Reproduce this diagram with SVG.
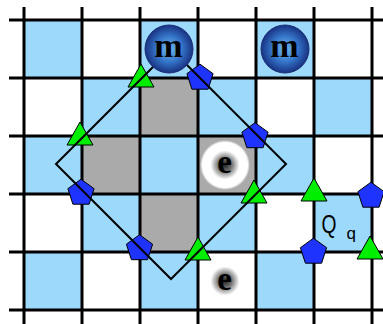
<svg xmlns="http://www.w3.org/2000/svg" width="383" height="324" viewBox="0 0 383 324">
<style>
.b{fill:#9dd9fb}
.g{fill:#aaaaaa}
.gl{stroke:#000;stroke-width:3;fill:none}
.tri{fill:#00ee00;stroke:#000;stroke-width:1}
.pen{fill:#1f33ff;stroke:#000;stroke-width:1}
.dia{fill:none;stroke:#000;stroke-width:2;stroke-linejoin:miter}
.mt{font-family:"Liberation Serif",serif;font-weight:bold;font-size:34px;text-anchor:middle;fill:#000}
.et{font-family:"Liberation Serif",serif;font-weight:bold;font-size:33px;text-anchor:middle;fill:#000}
.qt{font-family:"Liberation Sans",sans-serif;fill:#000}
</style>
<defs>
<radialGradient id="mg" cx="50%" cy="50%" r="50%">
<stop offset="0%" stop-color="#72bcee"/>
<stop offset="55%" stop-color="#3474c8"/>
<stop offset="100%" stop-color="#193282"/>
</radialGradient>
<radialGradient id="eg" cx="50%" cy="50%" r="50%">
<stop offset="0%" stop-color="#222"/>
<stop offset="28%" stop-color="#777"/>
<stop offset="58%" stop-color="#fff"/>
<stop offset="90%" stop-color="#fff"/>
<stop offset="100%" stop-color="#fff" stop-opacity="0"/>
</radialGradient>
<polygon id="tr" class="tri" points="0,-15 13,8 -13,8"/>
<polygon id="pe" class="pen" points="0,-13.8 13.1,-4.3 8.1,11.2 -8.1,11.2 -13.1,-4.3"/>
</defs>
<rect width="383" height="324" fill="#fff"/>
<g id="cells">
<rect class="b" x="24" y="20" width="58" height="58"/>
<rect class="b" x="140" y="20" width="58" height="58"/>
<rect class="b" x="256" y="20" width="58" height="58"/>
<rect class="b" x="82" y="78" width="58" height="58"/>
<rect class="g" x="140" y="78" width="58" height="58"/>
<rect class="b" x="198" y="78" width="58" height="58"/>
<rect class="b" x="314" y="78" width="58" height="58"/>
<rect class="b" x="24" y="136" width="58" height="58"/>
<rect class="g" x="82" y="136" width="58" height="58"/>
<rect class="b" x="140" y="136" width="58" height="58"/>
<rect class="g" x="198" y="136" width="58" height="58"/>
<rect class="b" x="256" y="136" width="58" height="58"/>
<rect class="b" x="82" y="194" width="58" height="58"/>
<rect class="g" x="140" y="194" width="58" height="58"/>
<rect class="b" x="198" y="194" width="58" height="58"/>
<rect class="b" x="314" y="194" width="58" height="58"/>
<rect class="b" x="24" y="252" width="58" height="58"/>
<rect class="b" x="140" y="252" width="58" height="58"/>
<rect class="b" x="256" y="252" width="58" height="58"/>
</g>
<g id="grid" class="gl">
<path d="M24 7V324M82 7V324M140 7V324M198 7V324M256 7V324M314 7V324M372 7V324"/>
<path d="M9 20H383M9 78H383M9 136H383M9 194H383M9 252H383M9 310H383"/>
</g>
<g id="markers">
<use href="#tr" x="141" y="79"/>
<use href="#tr" x="80" y="137"/>
<use href="#tr" x="254" y="195"/>
<use href="#tr" x="198" y="252"/>
<use href="#pe" x="200" y="78"/>
<use href="#pe" x="255" y="136.5"/>
<use href="#pe" x="81" y="193"/>
<use href="#pe" x="139.5" y="248.5"/>
</g>
<g id="connectors">
<polygon class="dia" points="171,49 286,164 171,279 56,164"/>
</g>
<g id="Q">
<use href="#tr" x="314" y="193"/>
<use href="#pe" x="371" y="196"/>
<use href="#pe" x="313.5" y="252"/>
<use href="#tr" x="370" y="251"/>
<text class="qt" x="321.5" y="233" font-size="26" textLength="15" lengthAdjust="spacingAndGlyphs">Q</text>
<text class="qt" x="346.5" y="239" font-size="17">q</text>
</g>
<g id="m1">
<circle cx="169" cy="49" r="24" fill="url(#mg)" stroke="#1a2f78" stroke-width="1"/>
<text class="mt" x="168.5" y="57">m</text>
</g>
<g id="m2">
<circle cx="285" cy="49" r="24" fill="url(#mg)" stroke="#1a2f78" stroke-width="1"/>
<text class="mt" x="284.5" y="57">m</text>
</g>
<g id="e1">
<circle cx="225" cy="165" r="25" fill="url(#eg)"/>
<text class="et" x="224.5" y="173">e</text>
</g>
<g id="e2">
<circle cx="225" cy="281" r="25" fill="url(#eg)"/>
<text class="et" x="224.5" y="290">e</text>
</g>
</svg>
